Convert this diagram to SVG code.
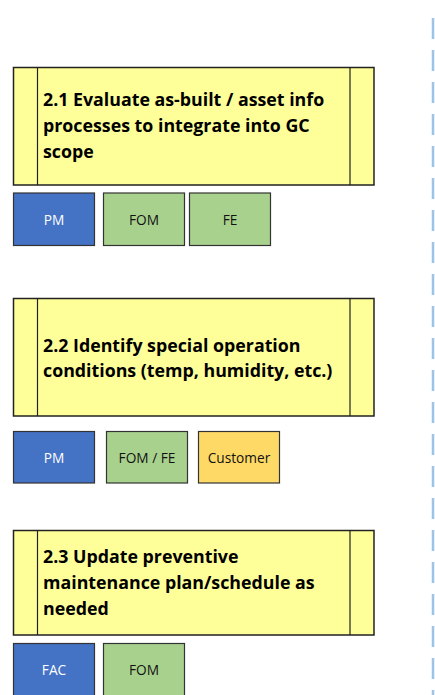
<svg xmlns="http://www.w3.org/2000/svg" width="435" height="695" viewBox="0 0 435 695">
<style>
.task{fill:#FFFF99;stroke:#222;stroke-width:1.5}
.div{stroke:#222;stroke-width:1.2}
.tt{font-family:"Open Sans","Liberation Sans",sans-serif;font-weight:bold;font-size:17.8px;fill:#000}
.role{stroke:#333;stroke-width:1.2}
.blue{fill:#4472C4}
.green{fill:#A9D18E}
.orange{fill:#FFD966}
.rt{font-family:"Open Sans","Liberation Sans",sans-serif;font-size:13.7px;text-anchor:middle;fill:#111}
.rtw{fill:#fff}
</style>
<rect width="435" height="695" fill="#fff"/>
<g id="connectors">
<line x1="433" y1="18" x2="433" y2="695" stroke="#9DC3E6" stroke-width="2.5" stroke-dasharray="21 11"/>
</g>
<g id="task-2-1">
<rect class="task" x="13.5" y="67.5" width="360.5" height="117.5"/>
<line class="div" x1="37.5" y1="67.5" x2="37.5" y2="185"/>
<line class="div" x1="350" y1="67.5" x2="350" y2="185"/>
<text class="tt" x="43" y="106">2.1 Evaluate as-built / asset info</text>
<text class="tt" x="43" y="132">processes to integrate into GC</text>
<text class="tt" x="43" y="157.5">scope</text>
</g>
<g id="role-2-1-pm"><rect class="role blue" x="13.5" y="193" width="81" height="52.5"/><text class="rt rtw" x="54" y="225">PM</text></g>
<g id="role-2-1-fom"><rect class="role green" x="103.5" y="193" width="81" height="52.5"/><text class="rt" x="144" y="225">FOM</text></g>
<g id="role-2-1-fe"><rect class="role green" x="189.5" y="193" width="81" height="52.5"/><text class="rt" x="230" y="225">FE</text></g>
<g id="task-2-2">
<rect class="task" x="13.5" y="298.5" width="360.5" height="117.5"/>
<line class="div" x1="37.5" y1="298.5" x2="37.5" y2="416"/>
<line class="div" x1="350" y1="298.5" x2="350" y2="416"/>
<text class="tt" x="43" y="351.5">2.2 Identify special operation</text>
<text class="tt" x="43" y="377">conditions (temp, humidity, etc.)</text>
</g>
<g id="role-2-2-pm"><rect class="role blue" x="13.5" y="431.5" width="81" height="51.5"/><text class="rt rtw" x="54" y="463">PM</text></g>
<g id="role-2-2-fomfe"><rect class="role green" x="106.5" y="431.5" width="81" height="51.5"/><text class="rt" x="147" y="463">FOM / FE</text></g>
<g id="role-2-2-customer"><rect class="role orange" x="198.5" y="431.5" width="81" height="51.5"/><text class="rt" x="239" y="463">Customer</text></g>
<g id="task-2-3">
<rect class="task" x="13.5" y="530.5" width="360.5" height="104.5"/>
<line class="div" x1="37.5" y1="530.5" x2="37.5" y2="635"/>
<line class="div" x1="350" y1="530.5" x2="350" y2="635"/>
<text class="tt" x="43" y="563">2.3 Update preventive</text>
<text class="tt" x="43" y="589">maintenance plan/schedule as</text>
<text class="tt" x="43" y="614.5">needed</text>
</g>
<g id="role-2-3-fac"><rect class="role blue" x="13.5" y="643.5" width="81" height="60"/><text class="rt rtw" x="54" y="675">FAC</text></g>
<g id="role-2-3-fom"><rect class="role green" x="103.5" y="643.5" width="81" height="60"/><text class="rt" x="144" y="675">FOM</text></g>
</svg>
